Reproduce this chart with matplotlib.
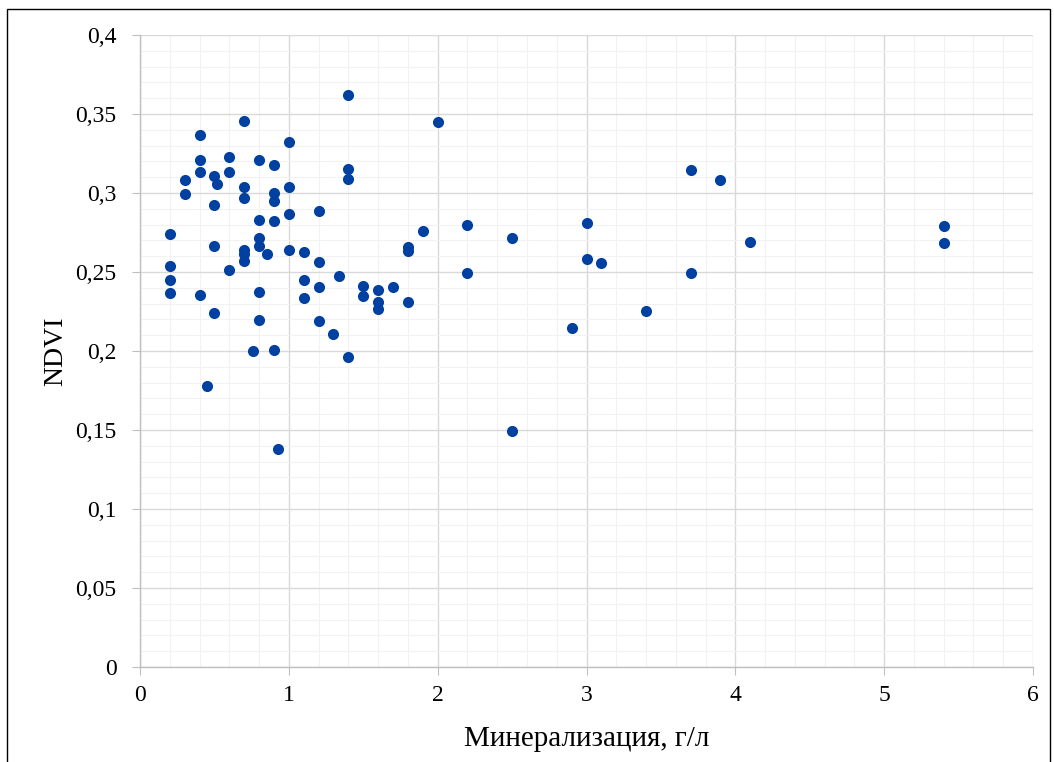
import numpy as np
import matplotlib.pyplot as plt
from matplotlib.ticker import MultipleLocator, FuncFormatter
from matplotlib.patches import Rectangle

# Минерализация, г/л
mineral = [1.40, 0.70, 2.00, 0.40, 1.00, 0.40, 0.60, 0.80, 0.90, 1.40,
           0.40, 0.60, 0.50, 0.30, 0.52, 1.40, 0.70, 1.00, 0.30, 0.90,
           0.70, 0.90, 0.50, 1.00, 1.20, 0.80, 0.90, 0.20, 1.90, 1.80,
           1.80, 0.80, 0.80, 0.50, 0.70, 0.70, 0.70, 0.85, 1.00, 1.10,
           1.20, 0.20, 0.60, 0.20, 1.10, 1.34, 0.20, 0.40, 0.80, 1.20,
           1.50, 1.50, 1.60, 1.70, 1.80, 1.60, 1.60, 1.10, 0.50, 0.80,
           1.20, 1.30, 0.76, 0.90, 1.40, 0.45, 0.93,
           3.70, 3.90, 2.20, 2.50, 3.00, 4.10, 5.40, 5.40, 3.00, 3.10,
           2.20, 3.70, 3.40, 2.90, 2.50]
ndvi = [0.362, 0.3457, 0.345, 0.337, 0.332, 0.321, 0.323, 0.3207, 0.318, 0.315,
        0.313, 0.313, 0.311, 0.308, 0.306, 0.309, 0.304, 0.304, 0.2996, 0.2998,
        0.2966, 0.295, 0.2926, 0.287, 0.2886, 0.2827, 0.282, 0.2739, 0.276, 0.266,
        0.263, 0.2713, 0.2667, 0.2667, 0.264, 0.2614, 0.2568, 0.2612, 0.264, 0.2625,
        0.2563, 0.254, 0.251, 0.245, 0.245, 0.2477, 0.2369, 0.2354, 0.2375, 0.2403,
        0.2413, 0.235, 0.2386, 0.2407, 0.2312, 0.231, 0.2266, 0.2333, 0.224, 0.2196,
        0.2192, 0.2108, 0.2002, 0.2004, 0.1962, 0.1778, 0.138,
        0.3148, 0.3081, 0.2796, 0.2718, 0.2811, 0.269, 0.2788, 0.2686, 0.2583, 0.2556,
        0.2496, 0.2494, 0.2252, 0.2144, 0.1494]

plt.rcParams['font.family'] = ['Liberation Serif', 'DejaVu Serif']

fig = plt.figure(figsize=(10.54, 7.62), dpi=100)
ax = fig.add_axes([140/1054, 1 - 667/762, (1033 - 140)/1054, (667 - 35)/762])

ax.scatter(mineral, ndvi, s=64, color='#0040A0', zorder=3, linewidths=0)

ax.set_xlim(0, 6)
ax.set_ylim(0, 0.4)
ax.xaxis.set_major_locator(MultipleLocator(1))
ax.xaxis.set_minor_locator(MultipleLocator(0.2))
ax.yaxis.set_major_locator(MultipleLocator(0.05))
ax.yaxis.set_minor_locator(MultipleLocator(0.01))
comma = FuncFormatter(lambda v, p: ('%g' % round(v, 4)).replace('.', ','))
ax.xaxis.set_major_formatter(comma)
ax.yaxis.set_major_formatter(comma)

ax.grid(which='major', color='#D9D9D9', linewidth=1.0, zorder=1)
ax.grid(which='minor', color='#F2F2F2', linewidth=0.8, zorder=0)
ax.set_axisbelow(True)

for side in ['top', 'right']:
    ax.spines[side].set_visible(False)
for side in ['left', 'bottom']:
    ax.spines[side].set_color('#BFBFBF')
    ax.spines[side].set_linewidth(1.0)

ax.tick_params(which='major', direction='out', length=6, color='#BFBFBF',
               labelsize=17)
ax.tick_params(axis='x', pad=7)
ax.tick_params(axis='y', pad=11)
ax.tick_params(which='minor', length=0)

ax.set_xlabel('Минерализация, г/л', fontsize=21, labelpad=14)
ax.set_ylabel('NDVI', fontsize=20, labelpad=5)

fig.patches.append(Rectangle((7/1054, -0.01), (1050 - 7)/1054, 1 - 9/762 + 0.01,
                             transform=fig.transFigure, fill=False,
                             edgecolor='black', linewidth=1.0))

fig.savefig('out.png', dpi=100)
